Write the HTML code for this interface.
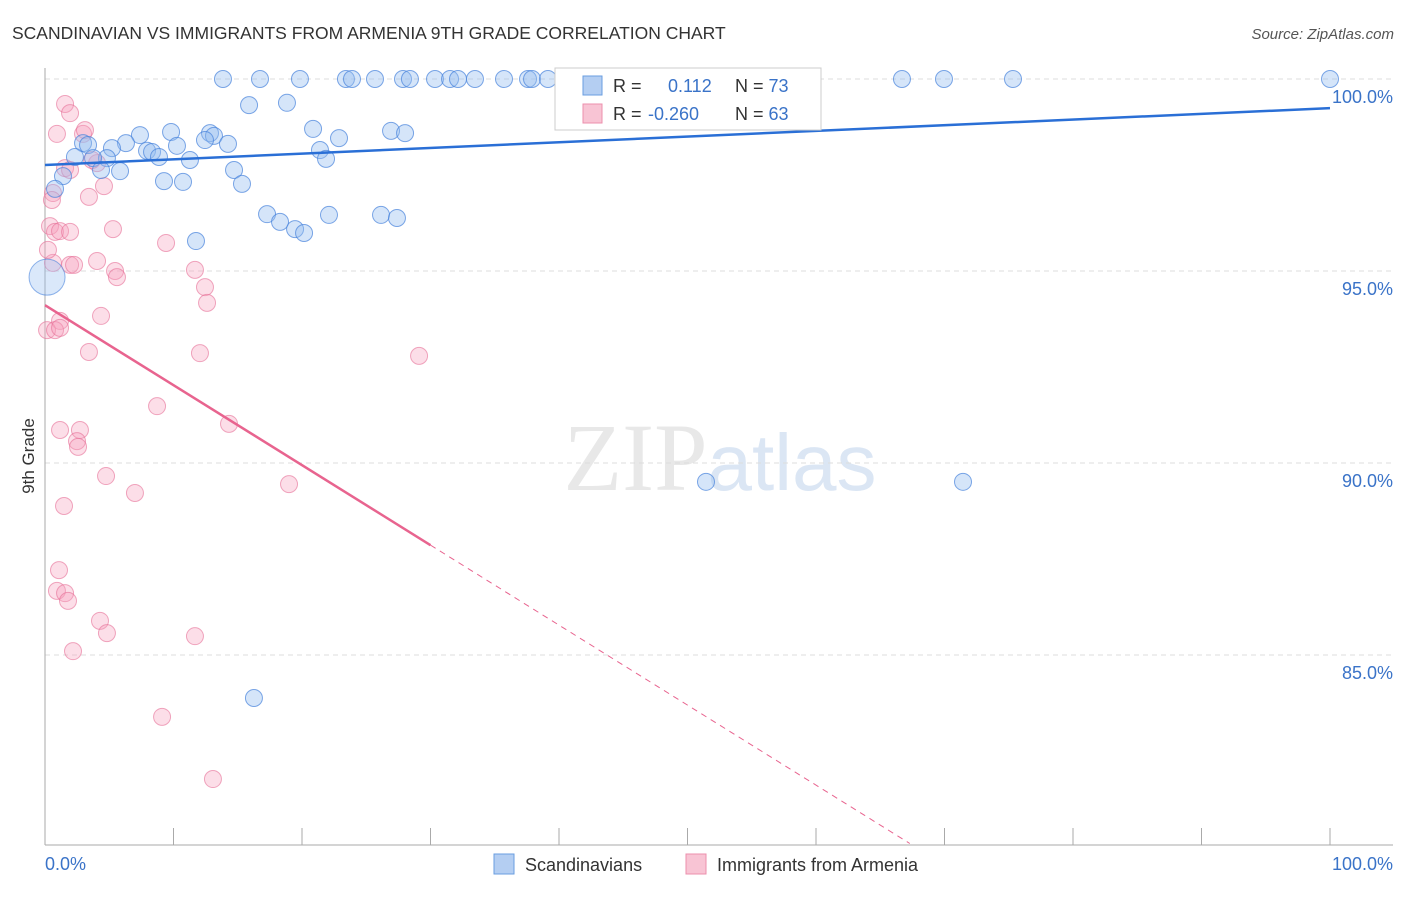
<!DOCTYPE html>
<html><head><meta charset="utf-8"><style>
body{margin:0;background:#fff;font-family:"Liberation Sans",sans-serif;}
</style></head><body>
<svg id="c" width="1406" height="892" xmlns="http://www.w3.org/2000/svg">
<text x="12" y="39" font-size="17.5" fill="#333">SCANDINAVIAN VS IMMIGRANTS FROM ARMENIA 9TH GRADE CORRELATION CHART</text>
<text x="1394" y="39" font-size="15" fill="#555" font-style="italic" text-anchor="end">Source: ZipAtlas.com</text>
<text x="720" y="490" font-size="96" fill="#e8e8e8" text-anchor="middle" font-family="Liberation Serif,serif">ZIP<tspan fill="#dbe6f4" font-family="Liberation Sans,sans-serif" font-size="80">atlas</tspan></text>
<text transform="translate(34,456) rotate(-90)" font-size="17" fill="#333" text-anchor="middle">9th Grade</text>
<g id="grid"></g><g id="pts"></g><g id="lines"></g>
<g>
<rect x="555" y="68" width="266" height="62" fill="#fff" stroke="#ccc"/>
<rect x="583" y="76" width="19" height="19" fill="#b4cef2" stroke="#6a9ee0"/>
<rect x="583" y="104" width="19" height="19" fill="#f8c4d4" stroke="#ec8fad"/>
<text x="613" y="92" font-size="18" fill="#333">R = <tspan fill="#3a73c8" x="668">0.112</tspan><tspan x="735" fill="#333">N = </tspan><tspan fill="#3a73c8">73</tspan></text>
<text x="613" y="120" font-size="18" fill="#333">R = <tspan fill="#3a73c8" x="648">-0.260</tspan><tspan x="735" fill="#333">N = </tspan><tspan fill="#3a73c8">63</tspan></text>
</g>
<g>
<rect x="494" y="854" width="20" height="20" fill="#b4cef2" stroke="#6a9ee0"/>
<text x="525" y="871" font-size="18" fill="#333">Scandinavians</text>
<rect x="686" y="854" width="20" height="20" fill="#f8c4d4" stroke="#ec8fad"/>
<text x="717" y="871" font-size="18" fill="#333">Immigrants from Armenia</text>
</g>
<text x="45" y="870" font-size="18" fill="#3a73c8">0.0%</text>
<text x="1393" y="870" font-size="18" fill="#3a73c8" text-anchor="end">100.0%</text>
</svg>
<script>
const yTicks=[100,95,90,85];
const yTickLabels=["100.0%","95.0%","90.0%","85.0%"];
const blueX=[13.85,16.73,19.84,23.42,23.89,25.68,27.86,28.40,30.35,31.52,32.14,33.46,35.72,37.59,37.90,39.14,47.16,54.47,66.69,69.96,75.33,100,15.88,18.83,20.86,22.88,26.93,28.02,9.81,7.39,12.84,13.15,12.45,14.24,10.27,6.30,2.96,3.35,5.21,7.94,8.33,8.87,4.82,3.74,2.33,11.28,4.36,5.84,14.71,21.40,21.87,15.33,9.26,10.74,1.40,0.78,17.28,18.29,19.46,20.16,22.10,26.15,27.39,11.75,51.44,71.44,16.26];
const blueY=[100,100,100,100,100,100,100,100,100,100,100,100,100,100,100,100,100,100,100,100,100,100,99.32,99.38,98.70,98.46,98.65,98.59,98.62,98.54,98.59,98.52,98.41,98.31,98.26,98.33,98.33,98.28,98.20,98.13,98.10,97.97,97.94,97.94,97.97,97.89,97.63,97.60,97.63,98.15,97.92,97.27,97.34,97.32,97.47,97.14,96.48,96.28,96.09,95.99,96.46,96.46,96.38,95.78,89.51,89.51,83.88];
const pinkX=[1.56,1.95,0.93,2.96,3.11,1.56,4.05,3.66,1.95,4.59,3.42,0.62,0.54,5.29,0.39,0.78,1.17,1.95,9.42,4.05,1.95,2.26,0.62,0.23,11.67,5.45,5.60,12.45,12.61,4.36,1.17,0.16,0.78,1.17,3.42,12.06,29.11,8.72,14.32,1.17,2.72,2.49,2.57,4.75,7.00,18.99,1.48,1.09,0.93,1.56,1.79,4.28,4.82,11.67,2.18,9.11,13.07];
const pinkY=[99.35,99.11,98.57,98.57,98.67,97.68,97.81,97.89,97.63,97.21,96.93,97.03,96.85,96.09,96.17,96.02,96.04,96.02,95.73,95.26,95.16,95.16,95.21,95.55,95.03,95.00,94.84,94.58,94.17,93.83,93.70,93.46,93.46,93.52,92.89,92.86,92.79,91.48,91.02,90.86,90.86,90.57,90.42,89.66,89.22,89.45,88.88,87.21,86.67,86.61,86.41,85.89,85.57,85.49,85.10,83.39,81.77];
const blueTrend=[97.76,99.24];
const pinkTrend=[94.11,-0.2083];
const NS="http://www.w3.org/2000/svg";
const sx=v=>45+v*12.85, sy=v=>79+(100-v)*38.4;
function mk(t,a,p){const e=document.createElementNS(NS,t);for(const k in a)e.setAttribute(k,a[k]);p.appendChild(e);return e;}
const grid=document.getElementById('grid');
yTicks.forEach((t,i)=>{
 const l=mk('line',{x1:45,x2:1393,y1:sy(t),y2:sy(t),stroke:'#ddd','stroke-dasharray':'5,4'},grid);
 
 
 const tx=mk('text',{x:1393,y:sy(t)+24,'font-size':18,fill:'#3a73c8','text-anchor':'end'},grid);
 tx.textContent=yTickLabels[i];
 
 
});
mk('line',{x1:45,x2:45,y1:68,y2:845,stroke:'#aaa'},grid);
mk('line',{x1:45,x2:1393,y1:845,y2:845,stroke:'#aaa'},grid);
for(let i=0;i<=10;i++){const t=mk('line',{x1:sx(i*10),x2:sx(i*10),y1:828,y2:845,stroke:'#aaa'},grid);
 
 }
const pts=document.getElementById('pts');
pinkX.forEach((x,i)=>{const c=mk('circle',{cx:sx(x),cy:sy(pinkY[i]),r:8.5,fill:'rgba(245,160,188,0.35)',stroke:'rgba(230,110,150,0.6)'},pts);
 
 });
blueX.forEach((x,i)=>{const c=mk('circle',{cx:sx(x),cy:sy(blueY[i]),r:8.5,fill:'rgba(150,190,240,0.4)',stroke:'rgba(70,130,220,0.7)'},pts);
 
 });
const big=mk('circle',{cx:sx(0.16),cy:sy(94.84),r:18,fill:'rgba(150,190,240,0.35)',stroke:'rgba(70,130,220,0.6)'},pts);


const ln=document.getElementById('lines');
const bl=mk('line',{x1:sx(0),y1:sy(blueTrend[0]),x2:sx(100),y2:sy(blueTrend[1]),stroke:'#2a6fd6','stroke-width':2.5},ln);


const pf=x=>pinkTrend[0]+pinkTrend[1]*x;
const pl=mk('line',{x1:sx(0),y1:sy(pf(0)),x2:sx(30),y2:sy(pf(30)),stroke:'#e8648f','stroke-width':2.5},ln);


const pd=mk('line',{x1:sx(30),y1:sy(pf(30)),x2:sx(67.3),y2:sy(pf(67.3)),stroke:'#e8648f','stroke-width':1,'stroke-dasharray':'6,5'},ln);


</script>
</body></html>
